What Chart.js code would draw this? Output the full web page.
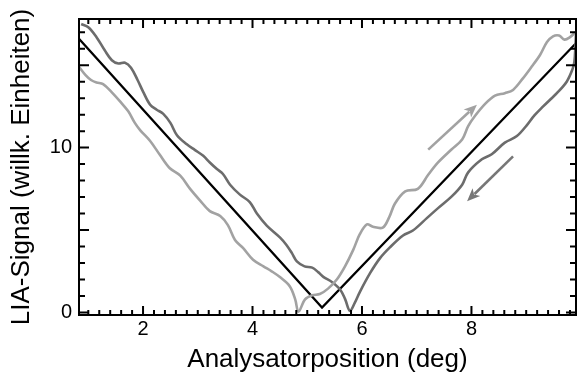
<!DOCTYPE html>
<html>
<head>
<meta charset="utf-8">
<script src="https://cdn.jsdelivr.net/npm/chart.js@4.4.1/dist/chart.umd.min.js"></script>
<style>
  html, body { margin: 0; padding: 0; background: #fff; }
  #wrap { width: 577px; height: 378px; }
</style>
</head>
<body>
<div id="wrap"><canvas id="c"></canvas></div>
<script>
// fitted V (black)
const fitX = [0.83, 5.27, 9.90];
const fitY = [16.6, 0.3, 16.3];

// sweep down (dark grey)
const downX = [0.87, 1.0, 1.15, 1.3, 1.43, 1.55, 1.67, 1.78, 1.9, 2.0, 2.13, 2.25, 2.37, 2.5, 2.62, 2.8, 2.95, 3.1, 3.22, 3.35, 3.46, 3.59, 3.77, 3.95, 4.08, 4.26, 4.5, 4.62, 4.72, 4.81, 4.95, 5.09, 5.2, 5.3, 5.45, 5.6, 5.69, 5.78, 5.87, 5.96, 6.15, 6.33, 6.51, 6.75, 6.93, 7.19, 7.39, 7.64, 7.83, 7.94, 8.19, 8.37, 8.61, 8.83, 9.01, 9.15, 9.31, 9.45, 9.56, 9.74, 9.84, 9.88, 9.90, 9.91];
const downY = [17.5, 17.3, 16.7, 15.9, 15.3, 15.1, 15.15, 14.85, 14.1, 13.4, 12.6, 12.3, 12.05, 11.5, 10.75, 10.2, 9.85, 9.5, 9.1, 8.7, 8.4, 7.75, 7.15, 6.7, 6.0, 5.27, 4.56, 4.1, 3.6, 3.1, 2.8, 2.72, 2.45, 2.15, 1.85, 1.4, 0.83, 0.1, 0.6, 1.24, 2.4, 3.3, 3.95, 4.67, 4.97, 5.74, 6.33, 7.04, 7.75, 8.5, 9.29, 9.6, 10.3, 10.7, 11.35, 11.95, 12.5, 12.95, 13.3, 14.0, 14.7, 15.2, 16.2, 16.9];

// sweep up (light grey)
const upX = [0.83, 0.95, 1.05, 1.15, 1.27, 1.43, 1.58, 1.73, 1.85, 1.95, 2.13, 2.31, 2.49, 2.68, 2.86, 3.04, 3.22, 3.41, 3.55, 3.68, 3.83, 4.01, 4.2, 4.35, 4.5, 4.68, 4.78, 4.84, 4.96, 5.09, 5.23, 5.38, 5.54, 5.69, 5.84, 5.96, 6.09, 6.2, 6.38, 6.5, 6.6, 6.79, 7.02, 7.21, 7.39, 7.64, 7.83, 7.94, 8.06, 8.25, 8.43, 8.61, 8.76, 8.94, 9.12, 9.25, 9.38, 9.49, 9.6, 9.7, 9.8, 9.9];
const upY = [14.9, 14.4, 14.1, 13.95, 13.85, 13.35, 12.8, 12.2, 11.5, 11.05, 10.4, 9.55, 8.75, 8.3, 7.5, 6.8, 6.15, 5.85, 5.3, 4.4, 3.9, 3.2, 2.8, 2.5, 2.15, 1.6, 0.8, 0.05, 0.8, 1.05, 1.12, 1.45, 2.0, 2.8, 3.8, 4.75, 5.35, 5.2, 5.15, 5.8, 6.6, 7.35, 7.5, 8.35, 9.1, 9.9, 10.5, 11.3, 11.9, 12.65, 13.15, 13.3, 13.5, 14.2, 15.0, 15.6, 16.4, 16.75, 16.8, 16.55, 16.7, 17.0];

// arrows: [tail, tip]
const arrowUpX = [7.21, 8.10];
const arrowUpY = [9.88, 12.6];
const arrowDownX = [8.76, 7.92];
const arrowDownY = [9.47, 6.75];

const xTicks = [2, 4, 6, 8];
const yTicks = [0, 10];

const pts = (xs, ys) => xs.map((x, i) => ({ x: x, y: ys[i] }));

const FONT = "'Liberation Sans', Arial, Helvetica, sans-serif";

// frame + inward ticks + direction arrows
const frame = {
  id: 'frame',
  afterDatasetsDraw(chart) {
    const ctx = chart.ctx;
    const a = chart.chartArea;
    const xs = chart.scales.x, ys = chart.scales.y;
    ctx.save();

    const arrow = (ax, ay, col) => {
      const x0 = xs.getPixelForValue(ax[0]), y0 = ys.getPixelForValue(ay[0]);
      const x1 = xs.getPixelForValue(ax[1]), y1 = ys.getPixelForValue(ay[1]);
      const ang = Math.atan2(y1 - y0, x1 - x0);
      const hl = 13, hw = 5.5;
      ctx.strokeStyle = col; ctx.fillStyle = col; ctx.lineWidth = 2.6;
      ctx.beginPath();
      ctx.moveTo(x0, y0);
      ctx.lineTo(x1 - Math.cos(ang) * hl * 0.8, y1 - Math.sin(ang) * hl * 0.8);
      ctx.stroke();
      ctx.beginPath();
      ctx.moveTo(x1, y1);
      ctx.lineTo(x1 - Math.cos(ang) * hl - Math.sin(ang) * hw, y1 - Math.sin(ang) * hl + Math.cos(ang) * hw);
      ctx.lineTo(x1 - Math.cos(ang) * hl * 0.75, y1 - Math.sin(ang) * hl * 0.75);
      ctx.lineTo(x1 - Math.cos(ang) * hl + Math.sin(ang) * hw, y1 - Math.sin(ang) * hl - Math.cos(ang) * hw);
      ctx.closePath();
      ctx.fill();
    };
    arrow(arrowUpX, arrowUpY, '#a2a2a2');
    arrow(arrowDownX, arrowDownY, '#777777');

    ctx.strokeStyle = '#000';
    ctx.lineWidth = 2;
    ctx.strokeRect(a.left, a.top, a.right - a.left, a.bottom - a.top);

    ctx.beginPath();
    for (let v = 1.0; v < xs.max; v += 0.2) {
      const r = Math.round(v * 10) / 10;
      const px = xs.getPixelForValue(r);
      const len = (Math.abs(r / 2 - Math.round(r / 2)) < 1e-6) ? 9 : 5;
      ctx.moveTo(px, a.bottom); ctx.lineTo(px, a.bottom - len);
      ctx.moveTo(px, a.top); ctx.lineTo(px, a.top + len);
    }
    for (let v = 0; v < ys.max; v += 1) {
      const py = ys.getPixelForValue(v);
      const len = v % 5 === 0 ? 10 : 6;
      ctx.moveTo(a.left, py); ctx.lineTo(a.left + len, py);
      ctx.moveTo(a.right, py); ctx.lineTo(a.right - len, py);
    }
    ctx.stroke();
    ctx.restore();
  }
};

new Chart(document.getElementById('c'), {
  type: 'line',
  data: {
    datasets: [
      { data: pts(upX, upY), borderColor: '#a2a2a2', borderWidth: 2.6, tension: 0.35, pointRadius: 0 },
      { data: pts(downX, downY), borderColor: '#6c6c6c', borderWidth: 2.6, tension: 0.35, pointRadius: 0 },
      { data: pts(fitX, fitY), borderColor: '#000000', borderWidth: 2.2, tension: 0, pointRadius: 0 }
    ]
  },
  options: {
    responsive: true,
    maintainAspectRatio: false,
    animation: false,
    devicePixelRatio: 1,
    layout: { padding: { top: 15, right: 1, left: 0, bottom: 0 } },
    plugins: { legend: { display: false }, tooltip: { enabled: false } },
    scales: {
      x: {
        type: 'linear',
        min: 0.83,
        max: 9.91,
        grid: { display: false, drawTicks: false },
        border: { display: false },
        afterBuildTicks: s => { s.ticks = xTicks.map(v => ({ value: v })); },
        afterFit: s => { s.height = 63; },
        ticks: { color: '#000', padding: 2, maxRotation: 0, autoSkip: false, font: { family: FONT, size: 20 } },
        title: {
          display: true, text: 'Analysatorposition (deg)', color: '#000',
          font: { family: FONT, size: 26 }, padding: { top: 0, bottom: 3 }
        }
      },
      y: {
        type: 'linear',
        min: -0.15,
        max: 17.8,
        grid: { display: false, drawTicks: false },
        border: { display: false },
        afterBuildTicks: s => { s.ticks = yTicks.map(v => ({ value: v })); },
        afterFit: s => { s.width = 79; },
        ticks: { color: '#000', padding: 7, font: { family: FONT, size: 20 } },
        title: {
          display: true, text: 'LIA-Signal (willk. Einheiten)', color: '#000',
          font: { family: FONT, size: 26 }, padding: { top: 6, bottom: 0 }
        }
      }
    }
  },
  plugins: [frame]
});
</script>
</body>
</html>
